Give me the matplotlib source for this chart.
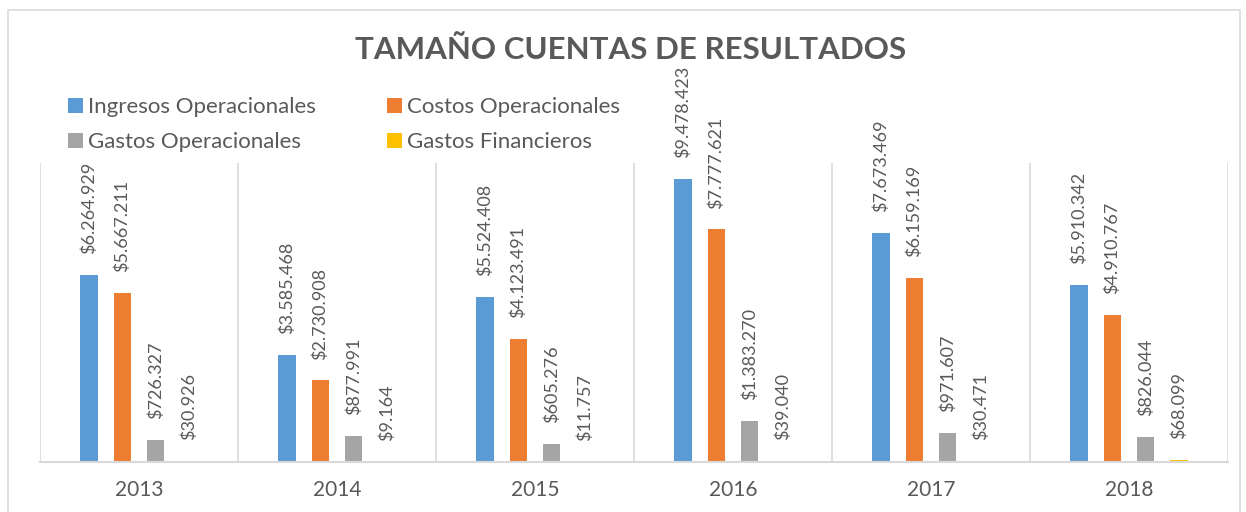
import numpy as np
import matplotlib
matplotlib.use('Agg')
import matplotlib.pyplot as plt
from matplotlib.patches import Rectangle

years = ['2013', '2014', '2015', '2016', '2017', '2018']
series_names = ['Ingresos Operacionales', 'Costos Operacionales',
                'Gastos Operacionales', 'Gastos Financieros']
ingresos = [6264929, 3585468, 5524408, 9478423, 7673469, 5910342]
costos = [5667211, 2730908, 4123491, 7777621, 6159169, 4910767]
gastos_op = [726327, 877991, 605276, 1383270, 971607, 826044]
gastos_fin = [30926, 9164, 11757, 39040, 30471, 68099]
colors = ['#5B9BD5', '#ED7D31', '#A5A5A5', '#FFC000']

plt.rcParams['font.family'] = ['Lato', 'DejaVu Sans']
txt = '#595959'
grid = '#D9D9D9'

fig = plt.figure(figsize=(12.46, 5.12), dpi=100)
fig.patches.append(Rectangle((8 / 1246, -0.01), 1232 / 1246, (512 - 10) / 512 + 0.01,
                             transform=fig.transFigure, fill=False,
                             edgecolor=grid, linewidth=1.2))
ax = fig.add_axes([40 / 1246, 50 / 512, 1188 / 1246, 299 / 512])

ind = np.arange(len(years))
w = 0.088
step = 0.169
data = [ingresos, costos, gastos_op, gastos_fin]
bars = []
for i, vals in enumerate(data):
    pos = ind + (i - 1.5) * step
    b = ax.bar(pos, vals, width=w, color=colors[i], label=series_names[i])
    bars.append(b)
    for x, v in zip(pos, vals):
        lab = '$' + format(v, ',').replace(',', '.')
        ax.annotate(lab, (x, v), xytext=(0, 15), textcoords='offset points',
                    rotation=90, ha='center', va='bottom', fontsize=13, color=txt)

ax.set_xlim(-0.5, len(years) - 0.5)
ax.set_ylim(0, 10000000)
for b in np.arange(-0.5, len(years), 1.0):
    ax.axvline(b, color=grid, linewidth=1.2, zorder=0)
ax.axhline(0, color=grid, linewidth=1.5, zorder=3, clip_on=False)
for s in ax.spines.values():
    s.set_visible(False)
ax.set_yticks([])
ax.set_xticks(ind)
ax.set_xticklabels(years, fontsize=15, color=txt)
ax.tick_params(axis='x', length=0, pad=13)

fig.text(631 / 1246, 1 - 50 / 512, 'TAMAÑO CUENTAS DE RESULTADOS', ha='center', va='center',
         fontsize=22.5, fontweight='bold', color=txt)

# legend filled by rows: reorder for column-wise fill
order = [0, 2, 1, 3]
leg = fig.legend([bars[k] for k in order], [series_names[k] for k in order],
                 loc='upper left', bbox_to_anchor=(57 / 1246, 1 - 86 / 512), ncol=2,
                 frameon=False, fontsize=16, handlelength=0.65, handleheight=0.65,
                 handletextpad=0.25, columnspacing=3.2, labelspacing=0.68, borderpad=0)
for t in leg.get_texts():
    t.set_color(txt)

plt.savefig('out.png', dpi=100)
